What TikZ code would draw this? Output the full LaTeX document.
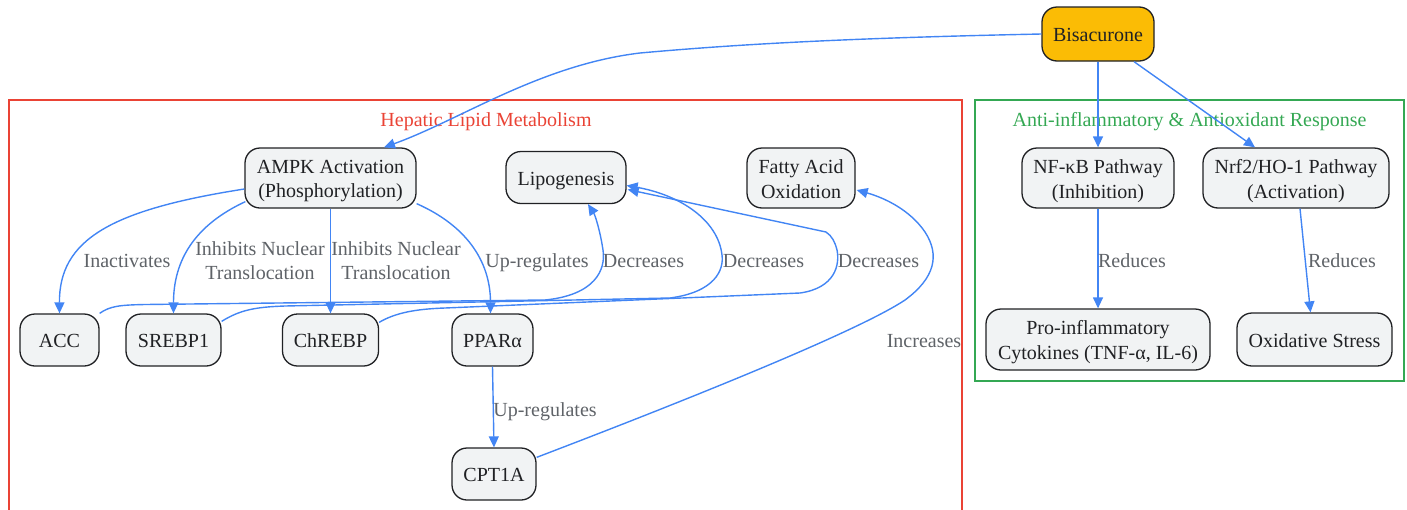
\documentclass[tikz,border=0pt]{standalone}
\usepackage{fontspec}
\setmainfont{Liberation Serif}
\usetikzlibrary{arrows.meta,calc}
\definecolor{edgeblue}{HTML}{4285F4}
\definecolor{nodefill}{HTML}{F1F3F4}
\definecolor{nodeborder}{HTML}{202124}
\definecolor{nodetext}{HTML}{202124}
\definecolor{bisfill}{HTML}{FBBC05}
\definecolor{clred}{HTML}{EA4335}
\definecolor{clgreen}{HTML}{34A853}
\definecolor{lblgrey}{HTML}{5F6368}
\newcommand\mystrut{\rule[-4.2pt]{0pt}{24pt}}
\newcommand\twolines[2]{\mystrut#1\\#2\mystrut}
\begin{document}
\begin{tikzpicture}[x=1pt,y=-1pt,
  txt/.style={font=\fontsize{20}{24}\selectfont},
  box/.style={txt, draw=nodeborder, fill=nodefill, rounded corners=15pt, line width=1.3pt,
    inner sep=0pt, align=center, text=nodetext},
  lbl/.style={txt, text=lblgrey, align=center, inner sep=0pt},
  ctitle/.style={txt, inner sep=0pt},
  conn/.style={draw=edgeblue, line width=1.4pt, -{Triangle[length=11pt,width=10pt]}},
]
\useasboundingbox (0,0) rectangle (1407,509);

% clusters
\draw[draw=clred, line width=1.2pt] (9,510) -- (9,100) -- (962,100) -- (962,510);
\node[ctitle, text=clred] (t1) at (486,119) {\mystrut Hepatic Lipid Metabolism};
\draw[draw=clgreen, line width=1.2pt] (975,100) rectangle (1404,381);
\node[ctitle, text=clgreen] (t2) at (1189.5,119) {\mystrut Anti-inflammatory \& Antioxidant Response};

% nodes
\node[box, fill=bisfill, minimum width=112pt, minimum height=54pt] (bis) at (1098,34) {\mystrut Bisacurone};
\node[box, minimum width=171pt, minimum height=60pt] (ampk) at (330.5,178) {\twolines{AMPK Activation}{(Phosphorylation)}};
\node[box, minimum width=120pt, minimum height=52pt] (lipo) at (566,177.5) {\mystrut Lipogenesis};
\node[box, minimum width=108pt, minimum height=60pt] (fao) at (801,178) {\twolines{Fatty Acid}{Oxidation}};
\node[box, minimum width=152pt, minimum height=60pt] (nfkb) at (1098,178) {\twolines{NF-κB Pathway}{(Inhibition)}};
\node[box, minimum width=186pt, minimum height=60pt] (nrf2) at (1296,178) {\twolines{Nrf2/HO-1 Pathway}{(Activation)}};
\node[box, minimum width=79pt, minimum height=52pt] (acc) at (59.5,340) {\mystrut ACC};
\node[box, minimum width=95pt, minimum height=52pt] (srebp) at (173.5,340) {\mystrut SREBP1};
\node[box, minimum width=96pt, minimum height=52pt] (chrebp) at (330.5,340) {\mystrut ChREBP};
\node[box, minimum width=81pt, minimum height=52pt] (ppar) at (492.5,340) {\mystrut PPARα};
\node[box, minimum width=84pt, minimum height=52pt] (cpt) at (494,474) {\mystrut CPT1A};
\node[box, minimum width=224pt, minimum height=61pt] (cyto) at (1098,339.5) {\twolines{Pro-inflammatory}{Cytokines (TNF-α, IL-6)}};
\node[box, minimum width=155pt, minimum height=53pt] (ox) at (1314.5,339.5) {\mystrut Oxidative Stress};

% connectors
\draw[conn] (bis.west) .. controls (850,38) and (740,44) .. (640,53)
  .. controls (540,65) and (460,120) .. ($(ampk.north)+(53.5,0)$);
\draw[conn] (bis.south) -- (nfkb.north);
\draw[conn] ($(bis.south)+(36,0)$) -- ($(nrf2.north)+(-41,0)$);

\draw[conn] ($(ampk.west)+(0,11)$) .. controls (110,210) and (59,240) .. (acc.north);
\draw[conn] ($(ampk.south west)+(1,-7)$) .. controls (195,225) and (173.5,260) .. (srebp.north);
\draw[conn] (ampk.south) -- (chrebp.north);
\draw[conn] ($(ampk.south east)+(0,-5)$) .. controls (465,225) and (490.5,260) .. ($(ppar.north)+(-2,0)$);

\draw[conn] (acc.north east) .. controls (110,306) and (120,305) .. (145,304.5)
  -- (545,300) .. controls (595,295) and (606,270) .. (603,250)
  .. controls (600,230) and (595,215) .. ($(lipo.south)+(22,0)$);
\draw[conn] ($(srebp.north east)+(0,8)$) .. controls (240,310) and (255,307) .. (285,306)
  -- (670,298) .. controls (715,292) and (724,270) .. (722,255)
  .. controls (718,220) and (680,195) .. ($(lipo.east)+(0,8)$);
\draw[conn] ($(chrebp.north east)+(0,9)$) .. controls (395,313) and (415,309) .. (445,308)
  -- (800,293) .. controls (835,288) and (840,265) .. (837,250)
  .. controls (835,242) and (832,236) .. (826,232) -- ($(lipo.east)+(1,12)$);

\draw[conn] (ppar.south) -- (cpt.north);
\draw[conn] ($(cpt.north east)+(0,10)$) .. controls (700,395) and (860,330) .. (905,300)
  .. controls (935,278) and (940,255) .. (925,232)
  .. controls (910,210) and (885,198) .. ($(fao.east)+(1,12)$);

\draw[conn] (nfkb.south) -- (cyto.north);
\draw[conn] ($(nrf2.south)+(4,0)$) -- ($(ox.north)+(-4,0)$);

% edge labels
\node[lbl] (l1) at (127,260) {\mystrut Inactivates};
\node[lbl] (l2) at (260,260) {\twolines{Inhibits Nuclear}{Translocation}};
\node[lbl] (l3) at (396,260) {\twolines{Inhibits Nuclear}{Translocation}};
\node[lbl] (l4) at (537,260) {\mystrut Up-regulates};
\node[lbl] (l5) at (643.5,260) {\mystrut Decreases};
\node[lbl] (l6) at (763.5,260) {\mystrut Decreases};
\node[lbl] (l7) at (878.5,260) {\mystrut Decreases};
\node[lbl] (l8) at (924,340) {\mystrut Increases};
\node[lbl] (l9) at (545,409) {\mystrut Up-regulates};
\node[lbl] (l10) at (1132,260) {\mystrut Reduces};
\node[lbl] (l11) at (1342,260) {\mystrut Reduces};
\end{tikzpicture}
\end{document}
